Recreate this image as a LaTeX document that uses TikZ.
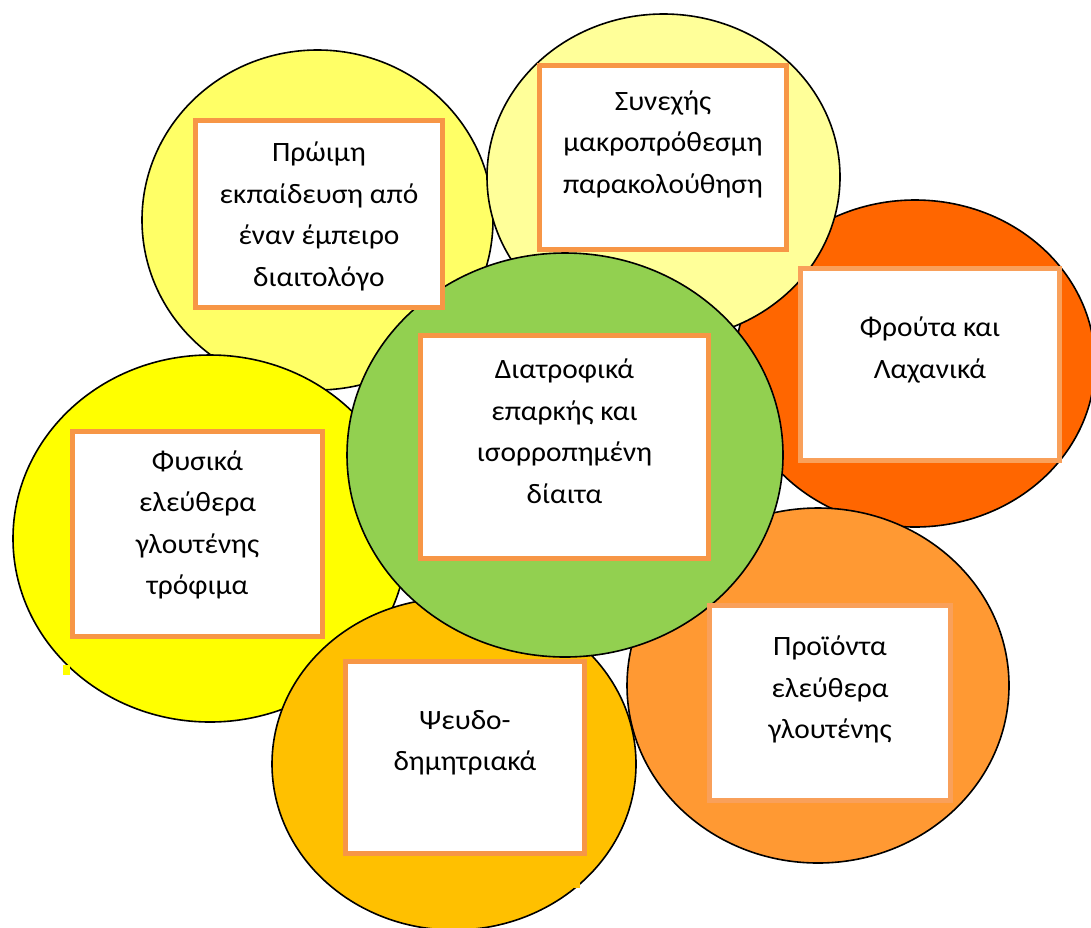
\documentclass[tikz,border=0pt]{standalone}
\usepackage{fontspec}
\setmainfont{Carlito}[FakeStretch=1.05]
\usetikzlibrary{shapes.geometric}
\definecolor{cA}{HTML}{FFFF66}
\definecolor{cB}{HTML}{FF6600}
\definecolor{cC}{HTML}{FFFF99}
\definecolor{cD}{HTML}{FFFF00}
\definecolor{cE}{HTML}{FF9933}
\definecolor{cF}{HTML}{FFC000}
\definecolor{cG}{HTML}{92D050}
\definecolor{boxor}{HTML}{F79646}
\definecolor{boxlt}{HTML}{F9A05A}
\begin{document}
\begin{tikzpicture}[x=1pt,y=-1pt,
  blob/.style={ellipse,draw=black,line width=1.6pt,inner sep=0pt},
  box/.style={rectangle,draw=boxor,fill=white,line width=5pt,inner sep=0pt},
  txt/.style={anchor=north,align=center,inner sep=0pt,font=\fontsize{28}{41.5}\selectfont}]
\useasboundingbox (0,0) rectangle (1091,927);
% circles
\node[blob,fill=cA,minimum width=351pt,minimum height=340pt] (c1) at (317.5,220) {};
\node[blob,fill=cB,minimum width=360pt,minimum height=327pt] (c3) at (915,363.5) {};
\node[blob,fill=cC,minimum width=353pt,minimum height=326pt] (c2) at (663.5,177) {};
\node[blob,fill=cD,minimum width=394pt,minimum height=367pt] (c5) at (210,538.5) {};
\node[blob,fill=cE,minimum width=382pt,minimum height=355pt] (c7) at (818,685.5) {};
\node[blob,fill=cF,minimum width=364pt,minimum height=332pt] (c6) at (454,764) {};
\node[blob,fill=cG,minimum width=436pt,minimum height=404pt] (c4) at (565,455) {};
% small marks
\fill[cD] (63,665) rectangle (70,675);
\fill[cF] (574,882) rectangle (580,888);
% boxes
\node[box,minimum width=247pt,minimum height=187pt] (b1) at (319,214) {};
\node[box,minimum width=247pt,minimum height=184pt] (b2) at (663,157.5) {};
\node[box,draw=boxlt,minimum width=259pt,minimum height=192pt] (b3) at (930,364.5) {};
\node[box,minimum width=288pt,minimum height=223pt] (b4) at (564.5,447) {};
\node[box,minimum width=250pt,minimum height=205pt] (b5) at (197.5,534) {};
\node[box,minimum width=239pt,minimum height=192pt] (b6) at (465,757.5) {};
\node[box,draw=boxlt,minimum width=241pt,minimum height=195pt] (b7) at (830,703) {};
% texts
\node[txt] (t1) at (319,133.7) {\rule{0pt}{28pt}Πρώιμη\\εκπαίδευση από\\έναν έμπειρο\\διαιτολόγο};
\node[txt] (t2) at (663,82) {\rule{0pt}{28pt}Συνεχής\\μακροπρόθεσμη\\παρακολούθηση};
\node[txt] (t3) at (930,308.7) {\rule{0pt}{28pt}Φρούτα και\\Λαχανικά};
\node[txt] (t4) at (564.5,350.3) {\rule{0pt}{28pt}Διατροφικά\\επαρκής και\\ισορροπημένη\\δίαιτα};
\node[txt] (t5) at (197.5,442) {\rule{0pt}{28pt}Φυσικά\\ελεύθερα\\γλουτένης\\τρόφιμα};
\node[txt] (t6) at (465,701) {\rule{0pt}{28pt}Ψευδο-\\δημητριακά};
\node[txt] (t7) at (830,627.7) {\rule{0pt}{28pt}Προϊόντα\\ελεύθερα\\γλουτένης};
\end{tikzpicture}
\end{document}
